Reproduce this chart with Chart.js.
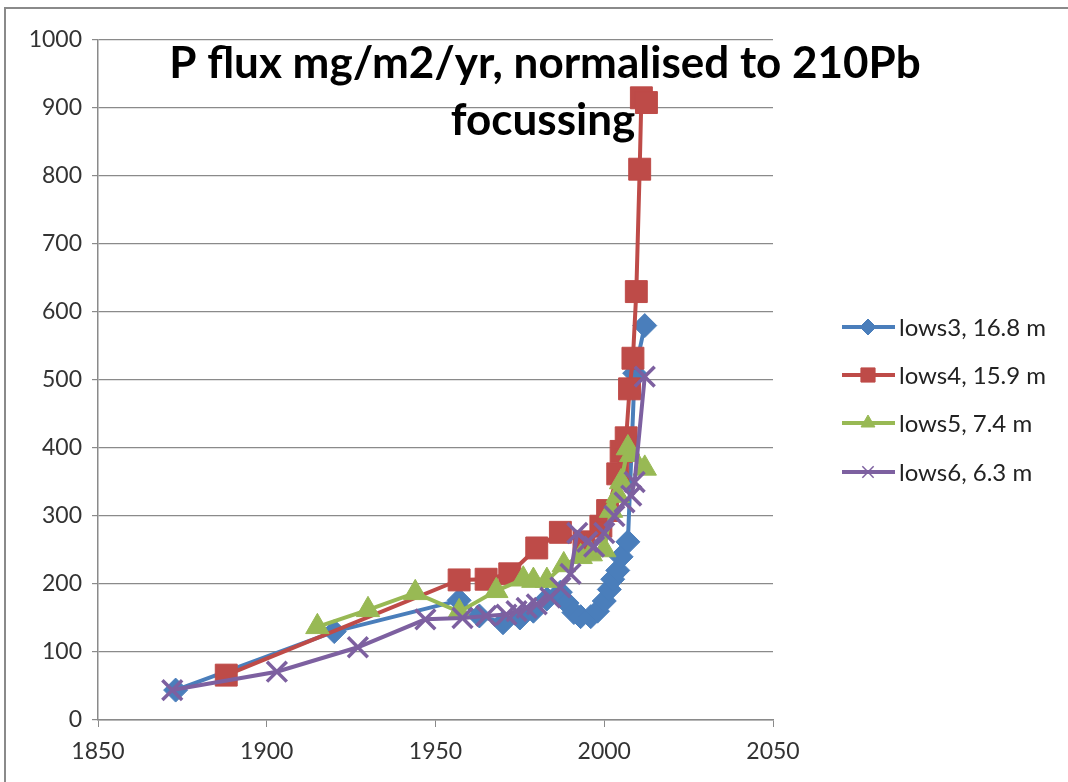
<!DOCTYPE html>
<html>
<head>
<meta charset="utf-8">
<script src="https://cdn.jsdelivr.net/npm/chart.js@4.4.0/dist/chart.umd.min.js"></script>
<style>
  html, body { margin: 0; padding: 0; background: #fff; }
  #wrap { width: 1068px; height: 782px; position: relative; }
</style>
</head>
<body>
<div id="wrap"><canvas id="chart" width="1068" height="782"></canvas></div>
<script>
// DATA
const titleLines = ['P flux mg/m2/yr, normalised to 210Pb', 'focussing'];
const seriesNames = ['lows3, 16.8 m', 'lows4, 15.9 m', 'lows5, 7.4 m', 'lows6, 6.3 m'];
const xTicks = [1850, 1900, 1950, 2000, 2050];
const yTicks = [0, 100, 200, 300, 400, 500, 600, 700, 800, 900, 1000];

const years3 = [1873, 1920, 1957, 1963, 1970, 1975, 1979, 1983, 1987, 1989, 1991, 1993, 1996, 1998, 2000, 2001.5, 2002.5, 2004, 2005, 2007, 2009, 2012];
const flux3  = [44, 130, 176, 153, 143, 150, 160, 178, 188, 172, 158, 152, 152, 160, 175, 192, 207, 220, 240, 262, 510, 580];

const years4 = [1888, 1957, 1965, 1972, 1980, 1987, 1994, 1999, 2001, 2004, 2005, 2006.5, 2007.5, 2008.5, 2009.5, 2010.5, 2011, 2012.5];
const flux4  = [66, 206, 207, 215, 253, 276, 262, 285, 308, 362, 395, 415, 487, 532, 630, 810, 915, 908];

const years5 = [1915, 1930, 1944, 1957, 1968, 1976, 1979, 1983, 1988, 1993, 1996, 2000, 2002, 2004, 2005, 2007, 2008, 2012];
const flux5  = [137, 162, 187, 159, 190, 207, 205, 205, 228, 240, 244, 250, 308, 330, 350, 400, 390, 370];

const years6 = [1872, 1903, 1927, 1947, 1958, 1965, 1971, 1974, 1977, 1980, 1984, 1987, 1990, 1992, 1995, 1997, 2000, 2003, 2006, 2008, 2009, 2012];
const flux6  = [44, 71, 107, 148, 150, 153, 155, 160, 165, 170, 180, 195, 215, 275, 262, 255, 275, 300, 320, 330, 350, 505];

// STYLE
const colors = ['#4A7EBB', '#BE4B48', '#98B954', '#7D60A0'];
const markers = ['rectRot', 'rect', 'triangle', 'crossRot'];
const markerSizes = [12, 15.5, 13.5, 14];
const legendRows = [327, 375, 423, 472];
const FONT = 'Lato, "Open Sans", "DejaVu Sans", sans-serif';

const toPoints = (xs, ys) => xs.map((x, i) => ({ x: x, y: ys[i] }));
const allYears = [years3, years4, years5, years6];
const allFlux = [flux3, flux4, flux5, flux6];

// later series drawn on top, as in the spreadsheet
const datasets = seriesNames.map((name, i) => ({
  label: name,
  data: toPoints(allYears[i], allFlux[i]),
  order: seriesNames.length - i,
  showLine: true,
  borderColor: colors[i],
  backgroundColor: colors[i],
  borderWidth: 4,
  pointStyle: markers[i],
  pointRadius: markerSizes[i],
  pointBorderWidth: markers[i] === 'crossRot' ? 3.5 : 1,
  pointBorderColor: colors[i],
  pointBackgroundColor: colors[i],
  tension: 0
}));

// frame round the chart, like the spreadsheet chart box
const framePlugin = {
  id: 'frame',
  beforeDraw(chart) {
    const ctx = chart.ctx;
    ctx.save();
    ctx.fillStyle = '#fff';
    ctx.fillRect(0, 0, chart.width, chart.height);
    ctx.strokeStyle = '#8a8a8a';
    ctx.lineWidth = 2;
    ctx.strokeRect(5, 8, chart.width + 20, chart.height + 20);
    ctx.restore();
  }
};

// title sits over the plot area, so draw it by hand
const titlePlugin = {
  id: 'overTitle',
  afterDraw(chart) {
    const ctx = chart.ctx;
    ctx.save();
    ctx.fillStyle = '#000';
    ctx.font = 'bold 44px ' + FONT;
    ctx.textAlign = 'center';
    ctx.textBaseline = 'middle';
    ctx.fillText(titleLines[0], 545, 64);
    ctx.fillText(titleLines[1], 543, 121);
    ctx.restore();
  }
};

// excel style legend: line with marker in the middle
const legendPlugin = {
  id: 'sideLegend',
  afterDraw(chart) {
    const ctx = chart.ctx;
    ctx.save();
    chart.data.datasets.forEach((ds, i) => {
      const y = legendRows[i];
      ctx.strokeStyle = colors[i];
      ctx.fillStyle = colors[i];
      ctx.lineWidth = 4;
      ctx.beginPath();
      ctx.moveTo(842, y);
      ctx.lineTo(895, y);
      ctx.stroke();
      ctx.lineWidth = markers[i] === 'crossRot' ? 1.5 : 1;
      Chart.helpers.drawPoint(ctx, { pointStyle: markers[i], radius: markers[i] === 'rect' ? 10 : 8, rotation: 0, borderWidth: 1 }, 868, y);
      ctx.fillStyle = '#222';
      ctx.font = '24px ' + FONT;
      ctx.textAlign = 'left';
      ctx.textBaseline = 'middle';
      ctx.fillText(ds.label, 899, y + 1);
    });
    ctx.restore();
  }
};

const chart = new Chart(document.getElementById('chart'), {
  type: 'scatter',
  data: { datasets: datasets },
  plugins: [framePlugin, titlePlugin, legendPlugin],
  options: {
    responsive: false,
    animation: false,
    devicePixelRatio: 1,
    layout: { padding: { left: 0, right: 295, top: 40, bottom: 0 } },
    plugins: {
      legend: { display: false },
      title: { display: false },
      tooltip: { enabled: false }
    },
    scales: {
      x: {
        type: 'linear',
        min: xTicks[0],
        max: xTicks[xTicks.length - 1],
        afterBuildTicks: (s) => { s.ticks = xTicks.map(v => ({ value: v })); },
        afterFit: (s) => { s.height = 62; },
        border: { color: '#8a8a8a', width: 1.5 },
        grid: { drawOnChartArea: false, drawTicks: true, tickLength: 7, color: '#8a8a8a' },
        ticks: { color: '#333', font: { family: FONT, size: 23 }, padding: 11, maxRotation: 0, callback: (v) => String(v) }
      },
      y: {
        type: 'linear',
        min: yTicks[0],
        max: yTicks[yTicks.length - 1],
        afterBuildTicks: (s) => { s.ticks = yTicks.map(v => ({ value: v })); },
        afterFit: (s) => { s.width = 98; },
        border: { color: '#8a8a8a', width: 1.5 },
        grid: { color: '#8a8a8a', lineWidth: 1.2, drawTicks: true, tickLength: 6 },
        ticks: { color: '#333', font: { family: FONT, size: 23 }, padding: 10, callback: (v) => String(v) }
      }
    }
  }
});
</script>
</body>
</html>
